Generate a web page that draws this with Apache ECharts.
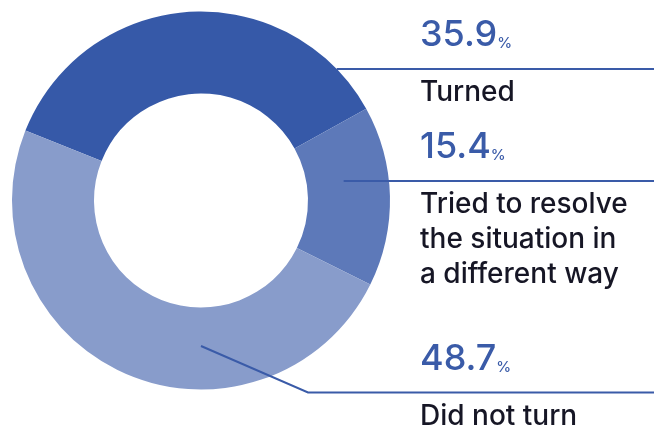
<!DOCTYPE html>
<html>
<head>
<meta charset="utf-8">
<script src="https://cdn.jsdelivr.net/npm/echarts@6/dist/echarts.min.js"></script>
<style>
  html, body { margin: 0; padding: 0; background: #ffffff; }
  #chart { width: 662px; height: 427px; }
</style>
</head>
<body>
<div id="chart"></div>
<script>
// Survey answers and their shares (%)
const categories = ['Turned', 'Tried to resolve\nthe situation in\na different way', 'Did not turn'];
const shares = [35.9, 15.4, 48.7];

// Styling
const sliceColors = ['#3659a8', '#5d79b9', '#889ccb'];
const accent = '#3a5ba8';
const ink = '#161625';
const FONT = 'Inter, "Noto Sans", sans-serif';

// Ring geometry (px)
const CX = 201, CY = 200.5, R_IN = 107, R_OUT = 189;
const START_ANGLE = 158.3;
// Callout column and where the rules stop
const LABEL_X = 420, RULE_END_X = 654;
// Leader start for each callout, in polar terms around the ring centre;
// a leader may drop to its own rule height through an elbow.
const leaders = [
  { angle: 44.1, radius: 189 },
  { angle: 7.8, radius: 144 },
  { angle: -90, radius: 145.5, ruleY: 392.5, elbowX: 308 }
];

function polar(angleDeg, r) {
  const a = angleDeg * Math.PI / 180;
  return [CX + r * Math.cos(a), CY - r * Math.sin(a)];
}

const ringBase = {
  type: 'pie',
  center: [CX, CY],
  radius: [R_IN, R_OUT],
  startAngle: START_ANGLE,
  clockwise: true,
  avoidLabelOverlap: false,
  silent: true,
  emphasis: { disabled: true }
};

const chart = echarts.init(document.getElementById('chart'), null, { renderer: 'canvas' });

chart.setOption({
  animation: false,
  backgroundColor: '#ffffff',
  series: [
    // the coloured ring
    Object.assign({}, ringBase, {
      z: 2,
      itemStyle: { borderWidth: 0 },
      label: { show: false },
      labelLine: { show: false },
      data: categories.map((name, i) => ({
        name: name,
        value: shares[i],
        itemStyle: { color: sliceColors[i] }
      }))
    }),
    // callouts with leaders, laid over the ring
    Object.assign({}, ringBase, {
      z: 3,
      itemStyle: { borderWidth: 0, color: 'rgba(0,0,0,0)' },
      data: categories.map((name, i) => ({ name: name, value: shares[i] })),
      label: {
        show: true,
        position: 'outside',
        fontFamily: FONT,
        formatter: (p) => {
          const lines = p.name.split('\n').map(s => '{name|' + s + '}').join('\n');
          return '{num|' + p.value.toFixed(1) + '}{pct|%}\n{gap| }\n' + lines;
        },
        rich: {
          num: { fontFamily: FONT, fontSize: 36, fontWeight: 500, color: accent, lineHeight: 44 },
          pct: { fontFamily: FONT, fontSize: 15, fontWeight: 500, color: accent, lineHeight: 44, verticalAlign: 'bottom', padding: [0, 0, 6, 0] },
          gap: { fontSize: 1, lineHeight: 18 },
          name: { fontFamily: FONT, fontSize: 28, fontWeight: 500, color: ink, lineHeight: 35 }
        }
      },
      labelLine: {
        show: true,
        smooth: false,
        lineStyle: { color: accent, width: 2 }
      },
      labelLayout: (params) => {
        const L = leaders[params.dataIndex];
        const start = polar(L.angle, L.radius);
        const ruleY = L.ruleY != null ? L.ruleY : start[1];
        const pts = [start];
        if (L.elbowX != null) pts.push([L.elbowX, ruleY]);
        pts.push([RULE_END_X, ruleY]);
        return {
          x: LABEL_X,
          y: ruleY - 55.8,
          align: 'left',
          verticalAlign: 'top',
          labelLinePoints: pts
        };
      }
    })
  ]
});
</script>
</body>
</html>
